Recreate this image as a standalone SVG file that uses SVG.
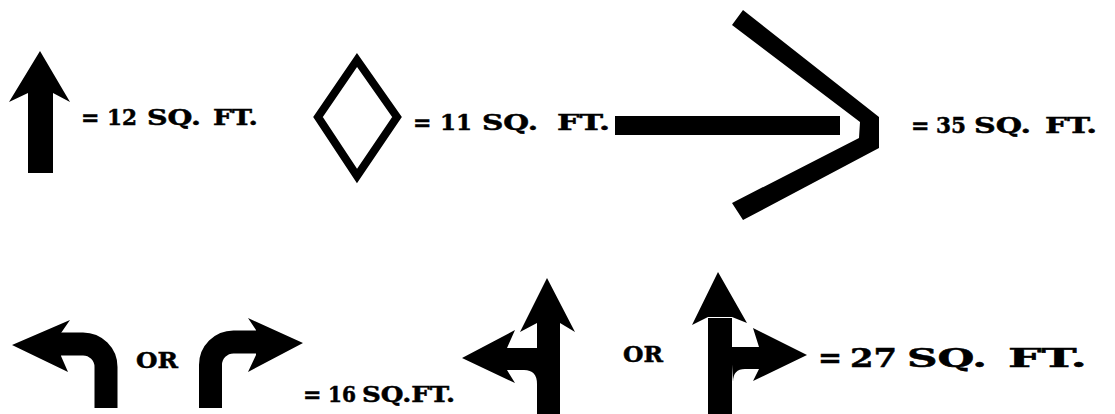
<svg xmlns="http://www.w3.org/2000/svg" width="1115" height="414" viewBox="0 0 1115 414">
<style>
.lbl{font-family:"DejaVu Serif","Liberation Serif",serif;font-weight:bold;fill:#000;stroke:#000;stroke-width:0.5}
.sh{fill:#000;stroke:none}
.st{fill:none;stroke:#000;stroke-linecap:butt}
</style>
<rect width="1115" height="414" fill="#fff"/>
<g id="straight-arrow">
<polygon class="sh" points="40,51 70,102 53,93 53,173 28,173 28,93 9,102"/>
<text class="lbl" y="125" font-size="22"><tspan x="81">=</tspan><tspan x="107" textLength="30" lengthAdjust="spacingAndGlyphs">12</tspan><tspan x="147" textLength="54" lengthAdjust="spacingAndGlyphs">SQ.</tspan><tspan x="213" textLength="45" lengthAdjust="spacingAndGlyphs">FT.</tspan></text>
</g>
<g id="diamond">
<polygon points="357,60 397,117 357,176 318,117" fill="none" stroke="#000" stroke-width="8" stroke-linejoin="miter"/>
<text class="lbl" y="130" font-size="22"><tspan x="413">=</tspan><tspan x="440" textLength="32" lengthAdjust="spacingAndGlyphs">11</tspan><tspan x="482" textLength="56" lengthAdjust="spacingAndGlyphs">SQ.</tspan><tspan x="557" textLength="53" lengthAdjust="spacingAndGlyphs">FT.</tspan></text>
</g>
<g id="merge-arrow">
<rect class="sh" x="615" y="116" width="225" height="19"/>
<polygon class="sh" points="743,10 879,117 879,148 743,220 732,203 859,138 860,122 732,25"/>
<text class="lbl" y="133" font-size="22"><tspan x="911">=</tspan><tspan x="936" textLength="30" lengthAdjust="spacingAndGlyphs">35</tspan><tspan x="974" textLength="57" lengthAdjust="spacingAndGlyphs">SQ.</tspan><tspan x="1045" textLength="52" lengthAdjust="spacingAndGlyphs">FT.</tspan></text>
</g>
<g id="turn-arrows">
<path class="st" stroke-width="23" d="M106,408 V367 A23,23 0 0 0 83,344 H60"/>
<polygon class="sh" points="12,345 70,320 61,333 61,356 68,372"/>
<text class="lbl" x="136" y="368" font-size="22" textLength="42" lengthAdjust="spacingAndGlyphs">OR</text>
<path class="st" stroke-width="23" d="M210.5,408 V365 A23,23 0 0 1 233.5,342 H258"/>
<polygon class="sh" points="303,343 248,318 256,330 256,355 248,372"/>
<text class="lbl" y="402" font-size="22"><tspan x="303">=</tspan><tspan x="328" textLength="28" lengthAdjust="spacingAndGlyphs">16</tspan><tspan x="362" textLength="93" lengthAdjust="spacingAndGlyphs">SQ.FT.</tspan></text>
</g>
<g id="combo-arrows">
<rect class="sh" x="537" y="323" width="23" height="91"/>
<polygon class="sh" points="547,278 575,332 560,323 537,323 520,332"/>
<path class="sh" d="M538,348 H507 V370 H524 Q537,370 537,384 Z"/>
<polygon class="sh" points="462,358 515,330 507,348 507,370 515,383"/>
<text class="lbl" x="623" y="362" font-size="22" textLength="40" lengthAdjust="spacingAndGlyphs">OR</text>
<rect class="sh" x="708" y="318" width="24" height="96"/>
<polygon class="sh" points="718,272 747,323 732,317 708,317 692,325"/>
<path class="sh" d="M731,347 H760 V369 H745 Q733,369 733,382 Z"/>
<polygon class="sh" points="807,355 753,328 759,347 759,369 753,381"/>
<text class="lbl" y="367" font-size="26"><tspan x="818" textLength="24" lengthAdjust="spacingAndGlyphs">=</tspan><tspan x="850" textLength="47" lengthAdjust="spacingAndGlyphs">27</tspan><tspan x="907" textLength="80" lengthAdjust="spacingAndGlyphs">SQ.</tspan><tspan x="1008" textLength="79" lengthAdjust="spacingAndGlyphs">FT.</tspan></text>
</g>
<g id="connectors"/>
</svg>
